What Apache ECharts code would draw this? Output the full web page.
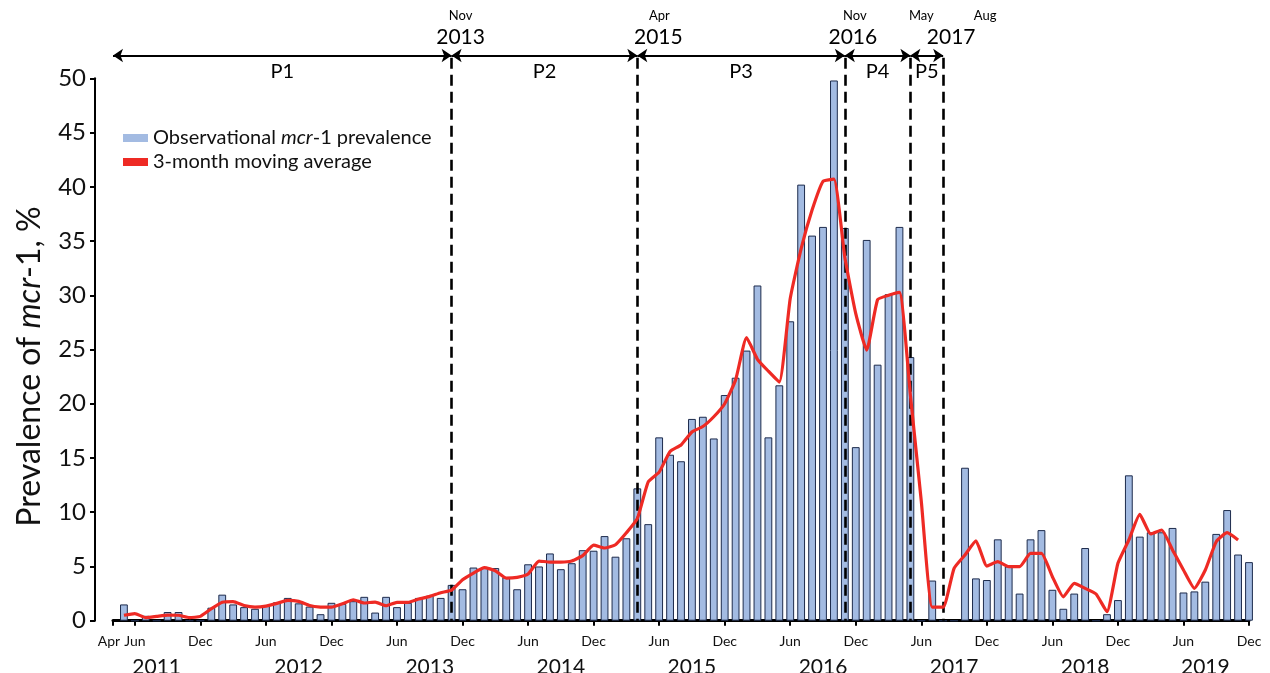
<!DOCTYPE html>
<html><head><meta charset="utf-8">
<script src="https://cdn.jsdelivr.net/npm/echarts@6/dist/echarts.min.js"></script>
<style>html,body{margin:0;padding:0;background:#fff}#c{width:1270px;height:673px}</style>
</head><body><div id="c"></div>
<script>
// ---------- data ----------
const monthNames = ['Jan','Feb','Mar','Apr','May','Jun','Jul','Aug','Sep','Oct','Nov','Dec'];
const categories = [];
for (let y = 2011; y <= 2019; y++) {
  for (let m = (y === 2011 ? 3 : 0); m < 12; m++) categories.push(y + '-' + String(m + 1).padStart(2, '0'));
}
// Observational mcr-1 prevalence (%), Apr 2011 .. Dec 2019
const prevalence = [
  null, 1.5, 0, 0.45, 0, 0.8, 0.8, 0, 0,                       // 2011 Apr-Dec
  1.2, 2.4, 1.5, 1.25, 1.1, 1.4, 1.7, 2.1, 1.6, 1.3, 0.6, 1.65, // 2012
  1.55, 1.8, 2.2, 0.75, 2.2, 1.25, 1.65, 2.1, 2.3, 2.1, 3.3, 2.9, // 2013
  4.9, 4.9, 4.85, 4.0, 2.9, 5.2, 5.0, 6.2, 4.75, 5.3, 6.5, 6.45, // 2014
  7.8, 5.9, 7.6, 12.2, 8.9, 16.9, 15.3, 14.7, 18.6, 18.8, 16.8, 20.8, // 2015
  22.4, 24.9, 30.9, 16.9, 21.7, 27.6, 40.2, 35.5, 36.3, 49.8, 36.2, 16.0, // 2016
  35.1, 23.6, 30.1, 36.3, 24.3, 0, 3.7, 0, 0, 14.1, 3.9, 3.75, // 2017
  7.5, 5.0, 2.5, 7.5, 8.35, 2.85, 1.1, 2.5, 6.7, 0, 0.6, 1.9,   // 2018
  13.4, 7.75, 8.15, 8.15, 8.55, 2.6, 2.7, 3.6, 8.0, 10.2, 6.1, 5.4 // 2019
];
// 3-month moving average (%)
const movingAvg = [
  null, 0.5, 0.65, 0.28, 0.4, 0.52, 0.5, 0.28, 0.4,
  1.1, 1.7, 1.75, 1.4, 1.26, 1.35, 1.6, 1.87, 1.78, 1.4, 1.26, 1.25,
  1.56, 1.93, 1.63, 1.72, 1.38, 1.69, 1.69, 2.0, 2.24, 2.58, 2.82, 3.77,
  4.39, 4.9, 4.6, 3.93, 4.0, 4.3, 5.5, 5.4, 5.4, 5.5, 6.0, 6.97,
  6.7, 7.0, 8.1, 9.4, 12.8, 13.7, 15.6, 16.2, 17.4, 17.9, 18.8, 20.0,
  22.2, 26.1, 24.1, 23.0, 22.0, 29.7, 34.3, 37.85, 40.5, 40.7, 33.5, 28.3,
  24.95, 29.6, 30.0, 30.27, 20.8, 11.0, 1.25, 1.25, 4.83, 6.06, 7.35, 5.04,
  5.44, 4.98, 4.98, 6.2, 6.2, 4.06, 2.2, 3.44, 2.98, 2.46, 0.83, 5.29,
  7.44, 9.8, 7.99, 8.36, 6.52, 4.67, 2.98, 4.67, 7.28, 8.11, 7.44, null
];
const yTicks = [0, 5, 10, 15, 20, 25, 30, 35, 40, 45, 50];
const monthTickLabels = { '2011-04': 'Apr' }; // plus every Jun and Dec
const yearTickLabels = { '2011-08': '2011', '2012-09': '2012', '2013-09': '2013', '2014-09': '2014',
  '2015-09': '2015', '2016-09': '2016', '2017-09': '2017', '2018-09': '2018', '2019-08': '2019' };
const periods = [
  { name: 'P1', from: '2011-04', to: '2013-11' },
  { name: 'P2', from: '2013-11', to: '2015-04' },
  { name: 'P3', from: '2015-04', to: '2016-11' },
  { name: 'P4', from: '2016-11', to: '2017-05' },
  { name: 'P5', from: '2017-05', to: '2017-08' },
  { name: 'P6', from: '2017-08', to: 105 }
];
const boundaries = [
  { at: '2013-11', month: 'Nov', year: '2013' },
  { at: '2015-04', month: 'Apr', year: '2015' },
  { at: '2016-11', month: 'Nov', year: '2016' },
  { at: '2017-05', month: 'May', year: '' },
  { at: '2017-08', month: 'Aug', year: '2017' }
];
const seriesNames = ['Observational mcr-1 prevalence', '3-month moving average'];

// ---------- styles ----------
const FONT = 'Lato';
const boundaryShift = [[9, 9], [22, 21], [10, 8], [11, 0], [42, 8]];
const periodTop = 52.1, boundaryTop = 51.9;
const PX_PER_UNIT = (620.7 - 78.3) / 50;
const overlayMax = 54;

function pad(dx) { return dx >= 0 ? [0, 0, 0, 2 * dx] : [0, -2 * dx, 0, 0]; }

const vLines = boundaries.map((b, k) => [
  { coord: [b.at, boundaryTop],
    label: {
      show: true, position: 'start', distance: 8, align: 'center',
      formatter: '{m|' + b.month + '}\n{y|' + (b.year || ' ') + '}',
      rich: {
        m: { fontFamily: FONT, fontSize: 13, lineHeight: 17, color: '#000', padding: pad(boundaryShift[k][0]) },
        y: { fontFamily: FONT, fontSize: 21, lineHeight: 25, color: '#000', padding: pad(boundaryShift[k][1]) }
      }
    } },
  { coord: [b.at, 0] }
]);
const hLines = periods.map(p => [
  { coord: [p.from, periodTop], label: { show: true, position: 'insideMiddleBottom', distance: 6,
      formatter: p.name, color: '#000', fontFamily: FONT, fontSize: 20 } },
  { coord: [p.to, periodTop] }
]);

const chart = echarts.init(document.getElementById('c'), null, { renderer: 'canvas' });
chart.setOption({
  animation: false,
  backgroundColor: '#fff',
  textStyle: { fontFamily: FONT },
  grid: [
    { left: 113, right: 21, top: 78.3, bottom: 52.3, containLabel: false, outerBoundsMode: 'none' },
    { left: 113, right: 21, top: 620.7 - overlayMax * PX_PER_UNIT, bottom: 52.3, containLabel: false, outerBoundsMode: 'none' }
  ],
  legend: {
    orient: 'vertical', left: 118, top: 123, itemWidth: 25, itemHeight: 8, itemGap: 4,
    data: [
      { name: seriesNames[0], icon: 'rect', itemStyle: { borderWidth: 0, color: '#a3bbe2' } },
      { name: seriesNames[1], icon: 'rect', itemStyle: { color: '#ee2a24' } }
    ],
    formatter: n => n === seriesNames[0] ? '{n|Observational }{i|mcr}{n|-1 prevalence}' : '{n|' + n + '}',
    textStyle: {
      color: '#111', fontFamily: FONT, fontSize: 20,
      rich: { n: { fontFamily: FONT, fontSize: 20, color: '#111' },
              i: { fontFamily: FONT, fontSize: 20, fontStyle: 'italic', color: '#111' } }
    }
  },
  xAxis: [
    {
      type: 'category', data: categories, boundaryGap: false, gridIndex: 0,
      axisLine: { show: true, lineStyle: { color: '#000', width: 3 } },
      axisTick: { show: true, inside: false, length: 5, lineStyle: { color: '#000', width: 2 },
        interval: (i, v) => !!monthTickLabels[v] || /-(06|12)$/.test(v) },
      axisLabel: { show: true, margin: 14, color: '#111', fontFamily: FONT, fontSize: 14,
        interval: (i, v) => !!monthTickLabels[v] || /-(06|12)$/.test(v),
        formatter: v => monthTickLabels[v] ? '{a|' + monthTickLabels[v] + '}' : monthNames[parseInt(v.slice(5), 10) - 1],
        rich: { a: { fontFamily: FONT, fontSize: 14, color: '#111', padding: [0, 8, 0, 0] } } },
      splitLine: { show: false }
    },
    {
      type: 'category', data: categories, boundaryGap: false, position: 'bottom', gridIndex: 0,
      axisLine: { show: false }, axisTick: { show: false }, splitLine: { show: false },
      axisLabel: { show: true, margin: 36, color: '#111', fontFamily: FONT, fontSize: 21,
        interval: (i, v) => !!yearTickLabels[v],
        formatter: v => yearTickLabels[v] || '' }
    },
    {
      type: 'category', data: categories, boundaryGap: false, gridIndex: 1, show: false
    }
  ],
  yAxis: [
    {
      type: 'value', min: yTicks[0], max: yTicks[yTicks.length - 1], interval: 5, offset: 18, gridIndex: 0,
      axisLine: { show: true, lineStyle: { color: '#000', width: 2 } },
      axisTick: { show: true, length: 5, lineStyle: { color: '#000', width: 2 } },
      axisLabel: { margin: 9, color: '#111', fontFamily: FONT, fontSize: 24 },
      splitLine: { show: false },
      name: '{n|Prevalence of }{i|mcr}{n|-1, %}',
      nameLocation: 'middle', nameGap: 49, nameMoveOverlap: false,
      nameTextStyle: {
        padding: [0, 34, 0, 0],
        rich: { n: { fontFamily: FONT, fontSize: 32, color: '#111' },
                i: { fontFamily: FONT, fontSize: 32, fontStyle: 'italic', color: '#111' } }
      }
    },
    { type: 'value', min: 0, max: overlayMax, gridIndex: 1, show: false, splitLine: { show: false } }
  ],
  series: [
    {
      name: seriesNames[0], type: 'bar', data: prevalence, barWidth: 7.8, clip: false,
      itemStyle: { color: '#a3bbe2', borderColor: '#1d2b4c', borderWidth: 1 }
    },
    {
      name: seriesNames[1], type: 'line', data: movingAvg, showSymbol: false, symbol: 'none',
      smooth: 0.15, lineStyle: { color: '#ee2a24', width: 3.2 }, itemStyle: { color: '#ee2a24' },
      z: 5, clip: false
    },
    {
      name: 'periods', type: 'line', xAxisIndex: 2, yAxisIndex: 1,
      data: categories.map(() => null), showSymbol: false, symbol: 'none', clip: false,
      lineStyle: { opacity: 0 }, silent: true, z: 4,
      markLine: {
        silent: true, symbol: 'none', animation: false,
        lineStyle: { color: '#000', width: 2.6, type: [11, 6] },
        data: vLines
      }
    },
    {
      name: 'periodArrows', type: 'line', xAxisIndex: 2, yAxisIndex: 1,
      data: categories.map(() => null), showSymbol: false, symbol: 'none', clip: false,
      lineStyle: { opacity: 0 }, silent: true, z: 4,
      markLine: {
        silent: true, symbol: ['arrow', 'arrow'], symbolSize: 10, animation: false,
        lineStyle: { color: '#000', width: 2, type: 'solid' },
        data: hLines
      }
    }
  ]
});
</script></body></html>
